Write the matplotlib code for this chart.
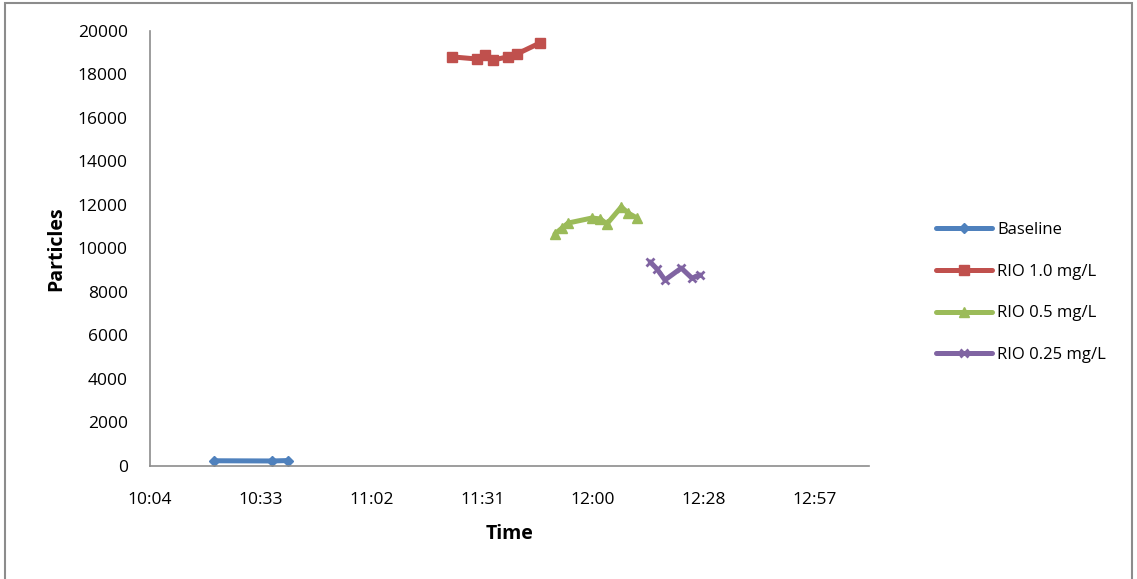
import matplotlib
matplotlib.use('Agg')
import matplotlib.pyplot as plt
from matplotlib.patches import Rectangle

plt.rcParams['font.family'] = ['Open Sans', 'DejaVu Sans']

# measurement times (hh:mm:ss) and particle counts
baseline_t = ['10:21:25', '10:36:30', '10:40:40']
baseline_v = [240, 230, 250]
rio10_t = ['11:23:20', '11:29:50', '11:31:55', '11:34:00', '11:37:55', '11:40:10', '11:46:10']
rio10_v = [18810, 18710, 18900, 18670, 18810, 18940, 19450]
rio05_t = ['11:50:05', '11:51:55', '11:53:30', '11:59:40', '12:01:50', '12:03:35', '12:07:20', '12:09:05', '12:11:25']
rio05_v = [10670, 10940, 11170, 11400, 11360, 11130, 11910, 11630, 11400]
rio025_t = ['12:14:50', '12:16:35', '12:18:40', '12:22:55', '12:25:40', '12:27:50']
rio025_v = [9380, 9060, 8550, 9100, 8640, 8780]

series_names = ['Baseline', 'RIO 1.0 mg/L', 'RIO 0.5 mg/L', 'RIO 0.25 mg/L']
x_ticks = [0.42, 0.44, 0.46, 0.48, 0.50, 0.52, 0.54]
x_tick_labels = ['10:04', '10:33', '11:02', '11:31', '12:00', '12:28', '12:57']
y_ticks = [0, 2000, 4000, 6000, 8000, 10000, 12000, 14000, 16000, 18000, 20000]


# convert hh:mm:ss to fraction of a day (excel style)
def day_frac(s):
    h, m, sec = [int(p) for p in s.split(':')]
    return (h * 3600 + m * 60 + sec) / 86400.0


fig = plt.figure(figsize=(11.37, 5.79), dpi=100)
ax = fig.add_axes([0.1319, 0.1952, 0.6324, 0.7513])

styles = [
    ('#4F81BD', 'D', 5, 1),
    ('#C0504D', 's', 6.5, 1),
    ('#9BBB59', '^', 6.5, 1),
    ('#8064A2', 'x', 5.5, 2),
]
data = [(baseline_t, baseline_v), (rio10_t, rio10_v), (rio05_t, rio05_v), (rio025_t, rio025_v)]
for (t, v), name, (col, mk, ms, mew) in zip(data, series_names, styles):
    ax.plot([day_frac(s) for s in t], v, color=col, lw=3.6, marker=mk, ms=ms,
            mec=col, mew=mew, label=name, solid_capstyle='round',
            solid_joinstyle='round')

ax.set_xlim(0.42, 0.5498)
ax.set_ylim(0, 20000)
ax.set_xticks(x_ticks)
ax.set_xticklabels(x_tick_labels)
ax.set_yticks(y_ticks)
ax.tick_params(length=0, labelsize=12.5)
ax.tick_params(axis='x', pad=19)
ax.tick_params(axis='y', pad=16)
for sp in ['top', 'right']:
    ax.spines[sp].set_visible(False)
for sp in ['left', 'bottom']:
    ax.spines[sp].set_color('#8c8c8c')
    ax.spines[sp].set_linewidth(1.2)

ax.set_xlabel('Time', fontsize=14, fontweight='bold', labelpad=11)
ax.set_ylabel('Particles', fontsize=14, fontweight='bold', labelpad=8)

leg = ax.legend(loc='upper left', bbox_to_anchor=(1.072, 0.596), frameon=False,
                fontsize=12, handlelength=3.4, labelspacing=1.55, handletextpad=0.3)

# outer chart border
fig.patches.append(Rectangle((0.0045, -0.1), 0.991, 1.095, transform=fig.transFigure,
                             fill=False, ec='#8c8c8c', lw=1.5))

fig.savefig('out.png', dpi=100)
